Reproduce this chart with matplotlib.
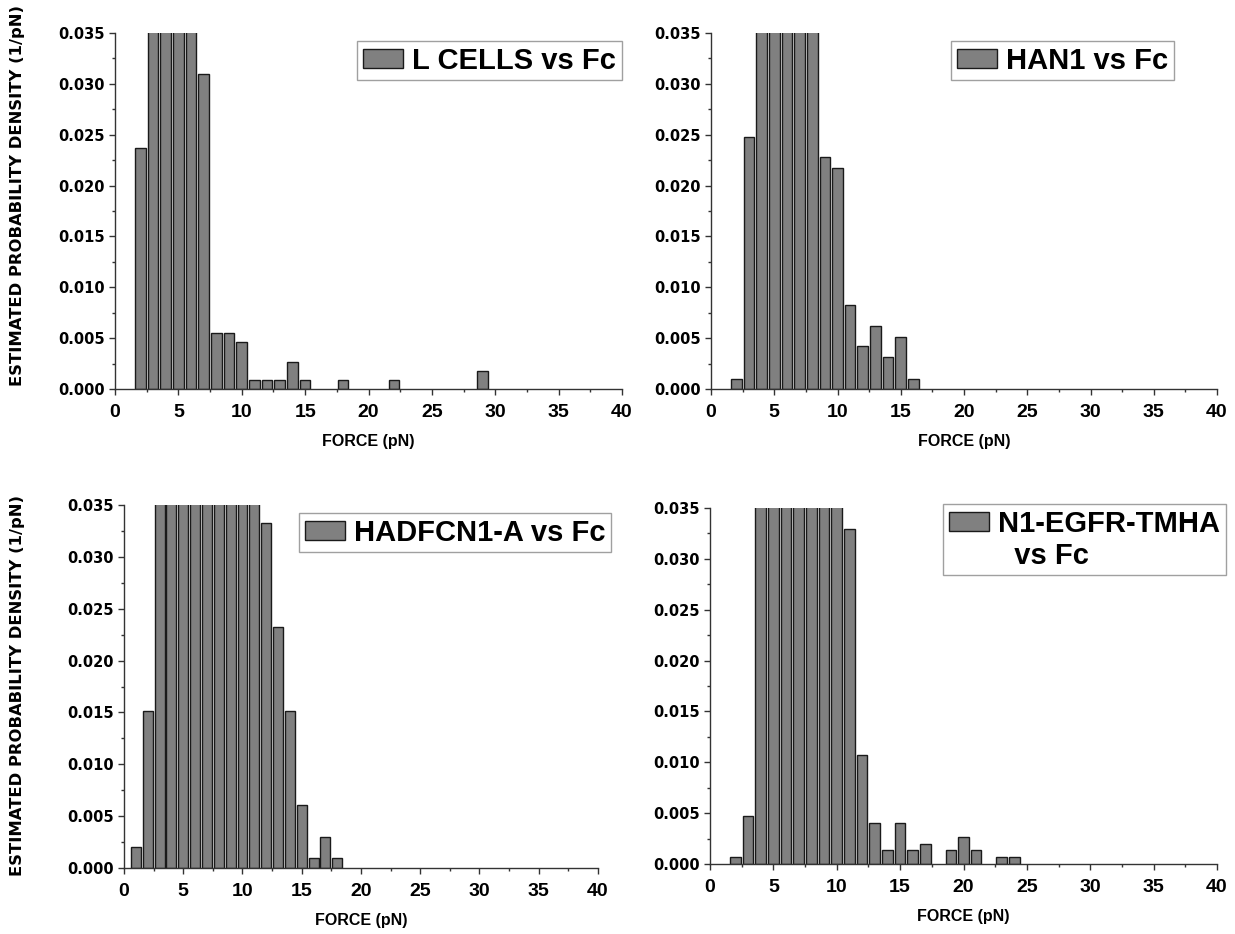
"""Force histograms, four cell lines vs Fc."""

import numpy as np
import matplotlib
matplotlib.use("Agg")
from matplotlib import pyplot as plt
from matplotlib.patches import Patch
from matplotlib.ticker import MultipleLocator, FormatStrFormatter

plt.rcParams['font.family'] = ['Liberation Sans', 'DejaVu Sans']
plt.rcParams['font.weight'] = 'bold'

# bin centres (pN) and densities (1/pN); bars above 0.035 are clipped in the figure
lcells_x = [2, 3, 4, 5, 6, 7, 8, 9, 10, 11, 12, 13, 14, 15, 18, 22, 29]
lcells_y = [0.0237, 0.20, 0.26, 0.25, 0.21, 0.0310, 0.0055, 0.0055, 0.0046,
            0.00092, 0.00092, 0.00092, 0.0027, 0.00092, 0.00092, 0.00092, 0.0018]

han1_x = [2, 3, 4, 5, 6, 7, 8, 9, 10, 11, 12, 13, 14, 15, 16]
han1_y = [0.0010, 0.0248, 0.12, 0.19, 0.22, 0.21, 0.16, 0.0228, 0.0217,
          0.0083, 0.0042, 0.0062, 0.0031, 0.0051, 0.0010]

hadfcn_x = [1, 2, 3, 4, 5, 6, 7, 8, 9, 10, 11, 12, 13, 14, 15, 16, 17, 18]
hadfcn_y = [0.0020, 0.0151, 0.04, 0.07, 0.10, 0.13, 0.15, 0.14, 0.12, 0.09, 0.06,
            0.0333, 0.0232, 0.0151, 0.0061, 0.0010, 0.0030, 0.0010]

egfr_x = [2, 3, 4, 5, 6, 7, 8, 9, 10, 11, 12, 13, 14, 15, 16, 17, 19, 20, 21, 23, 24]
egfr_y = [0.00066, 0.0047, 0.08, 0.14, 0.17, 0.18, 0.16, 0.12, 0.08, 0.0329, 0.01075,
          0.0040, 0.00138, 0.0040, 0.00138, 0.0020, 0.00138, 0.0027, 0.00138,
          0.00066, 0.00066]

labels = [["L CELLS vs Fc"], ["HAN1 vs Fc"], ["HADFCN1-A vs Fc"],
          ["N1-EGFR-TMHA", "  vs Fc"]]

BAR_FACE = '#808080'
BAR_EDGE = '#1a1a1a'
AXIS_COL = '#333333'

W, H = 1235, 934
fig = plt.figure(figsize=(W / 100, H / 100), dpi=100)

def px_axes(left, right, top, bottom):
    return fig.add_axes([left / W, (H - bottom) / H, (right - left) / W, (bottom - top) / H])

panels = [
    (px_axes(115, 622, 33, 389), lcells_x, lcells_y, (357, 41)),
    (px_axes(711, 1217, 33, 389), han1_x, han1_y, (951, 41)),
    (px_axes(124, 598, 505, 868), hadfcn_x, hadfcn_y, (299, 513)),
    (px_axes(710, 1217, 508, 864), egfr_x, egfr_y, (943, 504)),
]

for (ax, x, y, leg_pos), label in zip(panels, labels):
    ax.bar(x, y, width=0.84, color=BAR_FACE, edgecolor=BAR_EDGE, linewidth=1.0)
    ax.set_xlim(0, 40)
    ax.set_ylim(0, 0.035)
    ax.spines['top'].set_visible(False)
    ax.spines['right'].set_visible(False)
    for s in ('left', 'bottom'):
        ax.spines[s].set_color(AXIS_COL)
        ax.spines[s].set_linewidth(1.0)
    ax.xaxis.set_major_locator(MultipleLocator(5))
    ax.xaxis.set_minor_locator(MultipleLocator(2.5))
    ax.yaxis.set_major_locator(MultipleLocator(0.005))
    ax.yaxis.set_minor_locator(MultipleLocator(0.0025))
    ax.yaxis.set_major_formatter(FormatStrFormatter('%.3f'))
    ax.tick_params(which='major', direction='out', length=4.5, width=1.0, color=AXIS_COL)
    ax.tick_params(which='minor', direction='out', length=2.5, width=1.0, color=AXIS_COL)
    ax.tick_params(axis='x', labelsize=14, pad=6)
    ax.tick_params(axis='y', pad=3)
    for t in ax.get_yticklabels():
        t.set_fontfamily('DejaVu Sans')
        t.set_fontsize(10.5)
    ax.set_xlabel("FORCE (pN)", fontsize=11.5, fontweight='bold', labelpad=10)

    # legend box, placed by its upper-left corner in figure pixels
    handles = [Patch(facecolor=BAR_FACE, edgecolor=BAR_EDGE, linewidth=1.0)]
    handles += [Patch(visible=False) for _ in label[1:]]
    ax.legend(handles, label, loc='upper left',
              bbox_to_anchor=(leg_pos[0] / W, (H - leg_pos[1]) / H),
              bbox_transform=fig.transFigure, frameon=True,
              fancybox=False, edgecolor='#a0a0a0', framealpha=1,
              handlelength=1.4, handleheight=0.65, handletextpad=0.3,
              borderpad=0.19, labelspacing=0.15, borderaxespad=0,
              prop={'weight': 'bold', 'size': 21})

for yc in (195, 685):
    fig.text(18 / W, (H - yc) / H, "ESTIMATED PROBABILITY DENSITY (1/pN)",
             rotation=90, ha='center', va='center', fontsize=11.8, fontweight='bold',
             family='DejaVu Sans')

fig.savefig("out.png", dpi=100)
